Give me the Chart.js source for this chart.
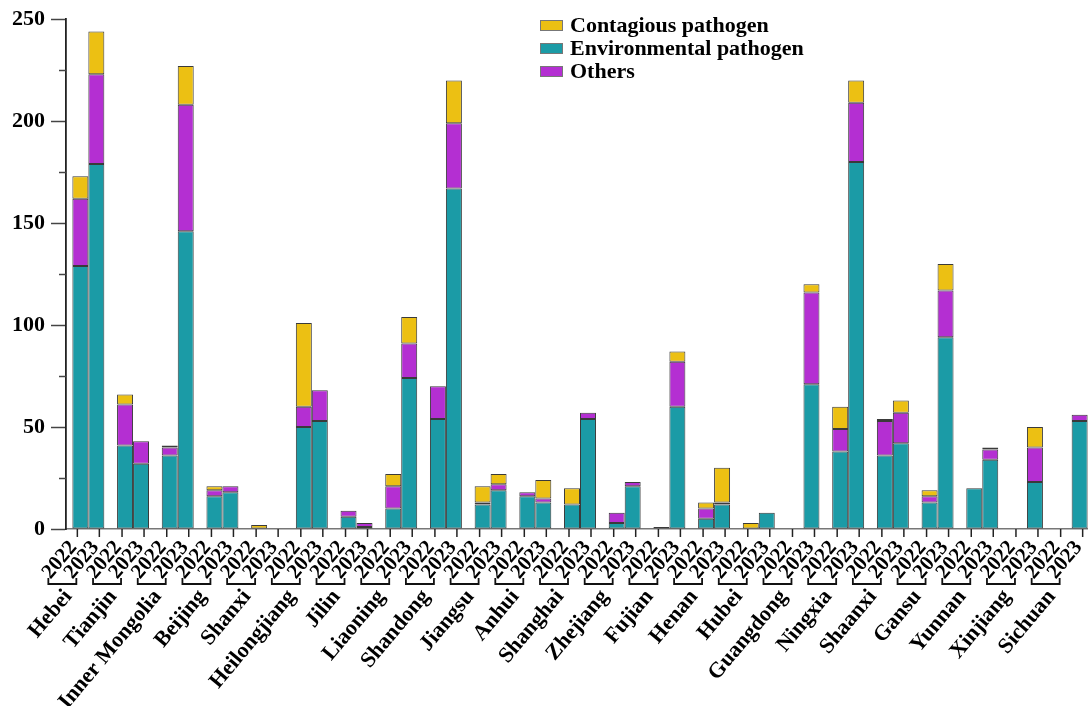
<!DOCTYPE html>
<html>
    <head>
        <meta charset="utf-8">
        <title>Pathogen counts by province</title>
        <script src="https://cdn.jsdelivr.net/npm/chart.js@4.4.1/dist/chart.umd.min.js"></script>
        <style>
            html, body { margin: 0; padding: 0; background: #fff; overflow: hidden; }
            /* slightly wider than the window: the last 2023 bar runs to the edge */
            .chart-container { position: relative; width: 1094px; height: 706px; }
        </style>
    </head>
    <body>
        <div class="chart-container">
            <canvas id="pathogenChart"></canvas>
        </div>

        <script>
            // DATA VALUES
            var provinces = ["Hebei", "Tianjin", "Inner Mongolia", "Beijing", "Shanxi", "Heilongjiang", "Jilin",
                "Liaoning", "Shandong", "Jiangsu", "Anhui", "Shanghai", "Zhejiang", "Fujian", "Henan", "Hubei",
                "Guangdong", "Ningxia", "Shaanxi", "Gansu", "Yunnan", "Xinjiang", "Sichuan"];
            var years = ["2022", "2023"];

            var env2022 = [129, 41, 36, 16, 0, 50, 6, 10, 54, 12, 16, 12, 3, 0, 5, 0, 0, 38, 36, 13, 20, 0, 0];
            var oth2022 = [33, 20, 4, 3, 0, 10, 3, 11, 16, 1, 2, 0, 5, 0, 5, 0, 0, 11, 17, 3, 0, 0, 0];
            var con2022 = [11, 5, 1, 2, 2, 41, 0, 6, 0, 8, 0, 8, 0, 1, 3, 3, 0, 11, 1, 3, 0, 0, 0];

            var env2023 = [179, 32, 146, 18, 0, 53, 1, 74, 167, 19, 13, 54, 21, 60, 12, 8, 71, 180, 42, 94, 34, 23, 53];
            var oth2023 = [44, 11, 62, 3, 0, 15, 2, 17, 32, 3, 2, 3, 2, 22, 1, 0, 45, 29, 15, 23, 5, 17, 3];
            var con2023 = [21, 0, 19, 0, 0, 0, 0, 13, 21, 5, 9, 0, 0, 5, 17, 0, 4, 11, 6, 13, 1, 10, 0];

            var yTicks = [0, 50, 100, 150, 200, 250];

            // legend order: top of stack first
            var seriesNames = ["Contagious pathogen", "Environmental pathogen", "Others"];
            var seriesColors = ["#ecc013", "#1b9ba6", "#b42fd2"];

            const FONT = '"Liberation Serif", "Times New Roman", serif';
            const EDGE = "#3a3a3a";

            function makeSet(label, arr, color, stack) {
                return {
                    label: label,
                    // zero counts are left out so no empty outline is drawn
                    data: arr.map(v => (v === 0 ? null : v)),
                    backgroundColor: color,
                    borderColor: EDGE,
                    borderWidth: 1,
                    borderSkipped: false,
                    stack: stack,
                    categoryPercentage: 0.715,
                    barPercentage: 1.0
                };
            }

            // DATASET - each year is its own stack, environmental at the bottom
            const data = {
                labels: provinces,
                datasets: [
                    makeSet(seriesNames[1] + " " + years[0], env2022, seriesColors[1], years[0]),
                    makeSet(seriesNames[2] + " " + years[0], oth2022, seriesColors[2], years[0]),
                    makeSet(seriesNames[0] + " " + years[0], con2022, seriesColors[0], years[0]),
                    makeSet(seriesNames[1] + " " + years[1], env2023, seriesColors[1], years[1]),
                    makeSet(seriesNames[2] + " " + years[1], oth2023, seriesColors[2], years[1]),
                    makeSet(seriesNames[0] + " " + years[1], con2023, seriesColors[0], years[1])
                ]
            };

            // draws minor ticks, the nested year / province axis and the legend
            const axisDecor = {
                id: "axisDecor",
                afterDraw(chart) {
                    const ctx = chart.ctx;
                    const xs = chart.scales.x;
                    const ys = chart.scales.y;
                    const base = ys.getPixelForValue(0);
                    const left = chart.chartArea.left;

                    ctx.save();

                    // minor y ticks halfway between labelled ones
                    ctx.strokeStyle = "#444";
                    ctx.lineWidth = 1.5;
                    for (let v = 25; v < 250; v += 50) {
                        const py = Math.round(ys.getPixelForValue(v)) + 0.5;
                        ctx.beginPath();
                        ctx.moveTo(left - 7, py);
                        ctx.lineTo(left, py);
                        ctx.stroke();
                    }

                    provinces.forEach((name, i) => {
                        const gc = xs.getPixelForValue(i);

                        // year ticks and rotated year labels
                        [gc - 11, gc + 11].forEach((tx, k) => {
                            ctx.strokeStyle = "#222";
                            ctx.lineWidth = 1.5;
                            ctx.beginPath();
                            ctx.moveTo(tx, base);
                            ctx.lineTo(tx, base + 8);
                            ctx.stroke();

                            ctx.save();
                            ctx.translate(tx - 4, base + 15);
                            ctx.rotate(-50 * Math.PI / 180);
                            ctx.font = "bold 21px " + FONT;
                            ctx.fillStyle = "#000";
                            ctx.textAlign = "right";
                            ctx.textBaseline = "middle";
                            ctx.fillText(years[k], 0, 0);
                            ctx.restore();
                        });

                        // bracket under the pair of year labels
                        const b0 = gc - 40, b1 = gc - 12, by = base + 55;
                        ctx.strokeStyle = "#111";
                        ctx.lineWidth = 1.8;
                        ctx.beginPath();
                        ctx.moveTo(b0, by - 6);
                        ctx.lineTo(b0, by);
                        ctx.lineTo(b1, by);
                        ctx.lineTo(b1, by - 6);
                        ctx.stroke();

                        // province name
                        ctx.save();
                        ctx.translate(gc - 20, base + 64);
                        ctx.rotate(-50 * Math.PI / 180);
                        ctx.font = "bold 22px " + FONT;
                        ctx.fillStyle = "#000";
                        ctx.textAlign = "right";
                        ctx.textBaseline = "middle";
                        ctx.fillText(name, 0, 0);
                        ctx.restore();
                    });

                    // legend
                    seriesNames.forEach((name, k) => {
                        const ry = 25.5 + k * 23;
                        ctx.fillStyle = seriesColors[k];
                        ctx.fillRect(540, ry - 5.5, 23, 11);
                        ctx.strokeStyle = "#777";
                        ctx.lineWidth = 1;
                        ctx.strokeRect(540.5, ry - 5, 22, 10);
                        ctx.font = "bold 22px " + FONT;
                        ctx.fillStyle = "#000";
                        ctx.textAlign = "left";
                        ctx.textBaseline = "middle";
                        ctx.fillText(name, 570, ry + 1);
                    });

                    ctx.restore();
                }
            };

            // CONFIG
            const config = {
                type: "bar",
                data: data,
                options: {
                    responsive: true,
                    maintainAspectRatio: false,
                    animation: false,
                    layout: {
                        padding: { top: 17, left: 6, right: 0, bottom: 169 }
                    },
                    plugins: {
                        legend: { display: false },
                        tooltip: { enabled: false }
                    },
                    scales: {
                        x: {
                            ticks: { display: false },
                            grid: { display: false },
                            border: { display: true, color: "#777", width: 1.5 }
                        },
                        y: {
                            stacked: true,
                            min: 0,
                            max: 250,
                            afterBuildTicks: (scale) => {
                                scale.ticks = yTicks.map(v => ({ value: v }));
                            },
                            ticks: {
                                color: "#000",
                                padding: 6,
                                font: { family: FONT, size: 22, weight: "bold" }
                            },
                            grid: {
                                drawOnChartArea: false,
                                drawTicks: true,
                                tickLength: 15,
                                tickWidth: 1.5,
                                tickColor: "#444"
                            },
                            border: { display: true, color: "#222", width: 1.8 }
                        }
                    }
                },
                plugins: [axisDecor]
            };

            const pathogenChart = new Chart("pathogenChart", config);
        </script>
    </body>
</html>
